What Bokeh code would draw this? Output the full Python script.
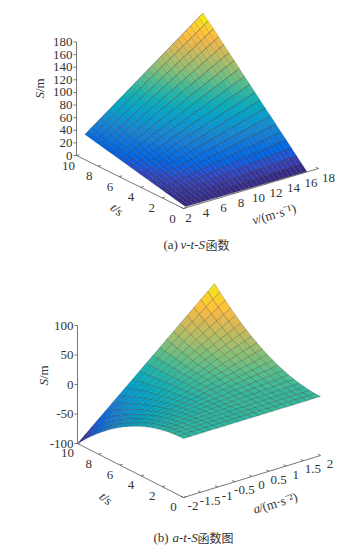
from bokeh.plotting import figure
from bokeh.models import Range1d, ColumnDataSource
from bokeh.core.properties import value
from bokeh.embed import file_html
from bokeh.resources import INLINE

# ---- data -----------------------------------------------------------------
V_A = [3,3.5,4,4.5,5,5.5,6,6.5,7,7.5,8,8.5,9,9.5,10,10.5,11,11.5,12,12.5,13,13.5,14,14.5,15,15.5,16,16.5,17]
T_GRID = [0,.5,1,1.5,2,2.5,3,3.5,4,4.5,5,5.5,6,6.5,7,7.5,8,8.5,9,9.5,10]
S_A = [
[0]*29,
[1.5,1.75,2,2.25,2.5,2.75,3,3.25,3.5,3.75,4,4.25,4.5,4.75,5,5.25,5.5,5.75,6,6.25,6.5,6.75,7,7.25,7.5,7.75,8,8.25,8.5],
[3,3.5,4,4.5,5,5.5,6,6.5,7,7.5,8,8.5,9,9.5,10,10.5,11,11.5,12,12.5,13,13.5,14,14.5,15,15.5,16,16.5,17],
[4.5,5.25,6,6.75,7.5,8.25,9,9.75,10.5,11.25,12,12.75,13.5,14.25,15,15.75,16.5,17.25,18,18.75,19.5,20.25,21,21.75,22.5,23.25,24,24.75,25.5],
[6,7,8,9,10,11,12,13,14,15,16,17,18,19,20,21,22,23,24,25,26,27,28,29,30,31,32,33,34],
[7.5,8.75,10,11.25,12.5,13.75,15,16.25,17.5,18.75,20,21.25,22.5,23.75,25,26.25,27.5,28.75,30,31.25,32.5,33.75,35,36.25,37.5,38.75,40,41.25,42.5],
[9,10.5,12,13.5,15,16.5,18,19.5,21,22.5,24,25.5,27,28.5,30,31.5,33,34.5,36,37.5,39,40.5,42,43.5,45,46.5,48,49.5,51],
[10.5,12.25,14,15.75,17.5,19.25,21,22.75,24.5,26.25,28,29.75,31.5,33.25,35,36.75,38.5,40.25,42,43.75,45.5,47.25,49,50.75,52.5,54.25,56,57.75,59.5],
[12,14,16,18,20,22,24,26,28,30,32,34,36,38,40,42,44,46,48,50,52,54,56,58,60,62,64,66,68],
[13.5,15.75,18,20.25,22.5,24.75,27,29.25,31.5,33.75,36,38.25,40.5,42.75,45,47.25,49.5,51.75,54,56.25,58.5,60.75,63,65.25,67.5,69.75,72,74.25,76.5],
[15,17.5,20,22.5,25,27.5,30,32.5,35,37.5,40,42.5,45,47.5,50,52.5,55,57.5,60,62.5,65,67.5,70,72.5,75,77.5,80,82.5,85],
[16.5,19.25,22,24.75,27.5,30.25,33,35.75,38.5,41.25,44,46.75,49.5,52.25,55,57.75,60.5,63.25,66,68.75,71.5,74.25,77,79.75,82.5,85.25,88,90.75,93.5],
[18,21,24,27,30,33,36,39,42,45,48,51,54,57,60,63,66,69,72,75,78,81,84,87,90,93,96,99,102],
[19.5,22.75,26,29.25,32.5,35.75,39,42.25,45.5,48.75,52,55.25,58.5,61.75,65,68.25,71.5,74.75,78,81.25,84.5,87.75,91,94.25,97.5,100.75,104,107.25,110.5],
[21,24.5,28,31.5,35,38.5,42,45.5,49,52.5,56,59.5,63,66.5,70,73.5,77,80.5,84,87.5,91,94.5,98,101.5,105,108.5,112,115.5,119],
[22.5,26.25,30,33.75,37.5,41.25,45,48.75,52.5,56.25,60,63.75,67.5,71.25,75,78.75,82.5,86.25,90,93.75,97.5,101.25,105,108.75,112.5,116.25,120,123.75,127.5],
[24,28,32,36,40,44,48,52,56,60,64,68,72,76,80,84,88,92,96,100,104,108,112,116,120,124,128,132,136],
[25.5,29.75,34,38.25,42.5,46.75,51,55.25,59.5,63.75,68,72.25,76.5,80.75,85,89.25,93.5,97.75,102,106.25,110.5,114.75,119,123.25,127.5,131.75,136,140.25,144.5],
[27,31.5,36,40.5,45,49.5,54,58.5,63,67.5,72,76.5,81,85.5,90,94.5,99,103.5,108,112.5,117,121.5,126,130.5,135,139.5,144,148.5,153],
[28.5,33.25,38,42.75,47.5,52.25,57,61.75,66.5,71.25,76,80.75,85.5,90.25,95,99.75,104.5,109.25,114,118.75,123.5,128.25,133,137.75,142.5,147.25,152,156.75,161.5],
[30,35,40,45,50,55,60,65,70,75,80,85,90,95,100,105,110,115,120,125,130,135,140,145,150,155,160,165,170],
]
A_B = [-2,-1.8,-1.6,-1.4,-1.2,-1,-.8,-.6,-.4,-.2,0,.2,.4,.6,.8,1,1.2,1.4,1.6,1.8,2]
S_B = [
[0]*21,
[-.25,-.23,-.2,-.18,-.15,-.13,-.1,-.08,-.05,-.03,0,.03,.05,.08,.1,.13,.15,.18,.2,.23,.25],
[-1,-.9,-.8,-.7,-.6,-.5,-.4,-.3,-.2,-.1,0,.1,.2,.3,.4,.5,.6,.7,.8,.9,1],
[-2.25,-2.03,-1.8,-1.58,-1.35,-1.13,-.9,-.68,-.45,-.23,0,.23,.45,.68,.9,1.13,1.35,1.58,1.8,2.03,2.25],
[-4,-3.6,-3.2,-2.8,-2.4,-2,-1.6,-1.2,-.8,-.4,0,.4,.8,1.2,1.6,2,2.4,2.8,3.2,3.6,4],
[-6.25,-5.63,-5,-4.38,-3.75,-3.13,-2.5,-1.88,-1.25,-.63,0,.63,1.25,1.88,2.5,3.13,3.75,4.38,5,5.63,6.25],
[-9,-8.1,-7.2,-6.3,-5.4,-4.5,-3.6,-2.7,-1.8,-.9,0,.9,1.8,2.7,3.6,4.5,5.4,6.3,7.2,8.1,9],
[-12.25,-11.03,-9.8,-8.58,-7.35,-6.13,-4.9,-3.68,-2.45,-1.23,0,1.23,2.45,3.68,4.9,6.13,7.35,8.58,9.8,11.03,12.25],
[-16,-14.4,-12.8,-11.2,-9.6,-8,-6.4,-4.8,-3.2,-1.6,0,1.6,3.2,4.8,6.4,8,9.6,11.2,12.8,14.4,16],
[-20.25,-18.23,-16.2,-14.18,-12.15,-10.13,-8.1,-6.08,-4.05,-2.03,0,2.03,4.05,6.08,8.1,10.13,12.15,14.18,16.2,18.23,20.25],
[-25,-22.5,-20,-17.5,-15,-12.5,-10,-7.5,-5,-2.5,0,2.5,5,7.5,10,12.5,15,17.5,20,22.5,25],
[-30.25,-27.23,-24.2,-21.18,-18.15,-15.13,-12.1,-9.08,-6.05,-3.03,0,3.03,6.05,9.08,12.1,15.13,18.15,21.18,24.2,27.23,30.25],
[-36,-32.4,-28.8,-25.2,-21.6,-18,-14.4,-10.8,-7.2,-3.6,0,3.6,7.2,10.8,14.4,18,21.6,25.2,28.8,32.4,36],
[-42.25,-38.03,-33.8,-29.58,-25.35,-21.13,-16.9,-12.68,-8.45,-4.23,0,4.23,8.45,12.68,16.9,21.13,25.35,29.58,33.8,38.03,42.25],
[-49,-44.1,-39.2,-34.3,-29.4,-24.5,-19.6,-14.7,-9.8,-4.9,0,4.9,9.8,14.7,19.6,24.5,29.4,34.3,39.2,44.1,49],
[-56.25,-50.63,-45,-39.38,-33.75,-28.13,-22.5,-16.88,-11.25,-5.63,0,5.63,11.25,16.88,22.5,28.13,33.75,39.38,45,50.63,56.25],
[-64,-57.6,-51.2,-44.8,-38.4,-32,-25.6,-19.2,-12.8,-6.4,0,6.4,12.8,19.2,25.6,32,38.4,44.8,51.2,57.6,64],
[-72.25,-65.03,-57.8,-50.58,-43.35,-36.13,-28.9,-21.68,-14.45,-7.23,0,7.23,14.45,21.68,28.9,36.13,43.35,50.58,57.8,65.03,72.25],
[-81,-72.9,-64.8,-56.7,-48.6,-40.5,-32.4,-24.3,-16.2,-8.1,0,8.1,16.2,24.3,32.4,40.5,48.6,56.7,64.8,72.9,81],
[-90.25,-81.23,-72.2,-63.18,-54.15,-45.13,-36.1,-27.08,-18.05,-9.03,0,9.03,18.05,27.08,36.1,45.13,54.15,63.18,72.2,81.23,90.25],
[-100,-90,-80,-70,-60,-50,-40,-30,-20,-10,0,10,20,30,40,50,60,70,80,90,100],
]
TICKS_S_A = [0,20,40,60,80,100,120,140,160,180]
TICKS_T = [0,2,4,6,8,10]
TICKS_V = [2,4,6,8,10,12,14,16,18]
TICKS_S_B = [-100,-50,0,50,100]
TICKS_A = [-2,-1.5,-1,-.5,0,.5,1,1.5,2]
TICK_LABELS_A = ["-2","-1.5","-1","-0.5","0","0.5","1","1.5","2"]

PARULA = [(.2081,.1663,.5292),(.2116,.1898,.5777),(.2123,.2138,.6270),(.2081,.2386,.6771),(.1959,.2645,.7279),(.1707,.2919,.7792),(.1253,.3242,.8303),(.0591,.3598,.8683),(.0117,.3875,.8820),(.0060,.4086,.8828),(.0165,.4266,.8786),(.0329,.4430,.8720),(.0498,.4586,.8641),(.0629,.4737,.8554),(.0723,.4887,.8467),(.0779,.5040,.8384),(.0793,.5200,.8312),(.0749,.5375,.8263),(.0641,.5570,.8240),(.0488,.5772,.8228),(.0343,.5966,.8199),(.0265,.6137,.8135),(.0239,.6287,.8038),(.0231,.6418,.7913),(.0228,.6535,.7768),(.0267,.6642,.7607),(.0384,.6743,.7436),(.0590,.6838,.7254),(.0843,.6928,.7062),(.1133,.7015,.6859),(.1453,.7098,.6646),(.1801,.7177,.6424),(.2178,.7250,.6193),(.2586,.7317,.5954),(.3022,.7376,.5712),(.3482,.7424,.5473),(.3953,.7459,.5244),(.4420,.7481,.5033),(.4871,.7491,.4840),(.5300,.7491,.4661),(.5709,.7485,.4494),(.6099,.7473,.4337),(.6473,.7456,.4188),(.6834,.7435,.4044),(.7184,.7411,.3905),(.7525,.7384,.3768),(.7858,.7356,.3633),(.8185,.7327,.3498),(.8507,.7299,.3360),(.8824,.7274,.3217),(.9139,.7258,.3063),(.9450,.7261,.2886),(.9739,.7314,.2666),(.9938,.7455,.2403),(.9990,.7653,.2164),(.9955,.7861,.1967),(.9880,.8066,.1794),(.9789,.8271,.1633),(.9697,.8481,.1475),(.9626,.8705,.1309),(.9589,.8949,.1132),(.9598,.9218,.0948),(.9661,.9514,.0755),(.9763,.9831,.0538)]

def color(f):
    i = max(0, min(63, int(f * 64)))
    r, g, b = PARULA[i]
    return "#%02x%02x%02x" % (int(r*255), int(g*255), int(b*255))

# ---- oblique projections (page pixels) --------------------------------------
def base_a(v, t, s):
    u, w = (v-2)/16, t/10
    return 183+135*u-107*w, 208-40*u-53*w-s*113.5/180

def surf_a(v, t, s):
    x, y = base_a(v, t, s*0.98)
    k = 1-t/10
    return x-(6.5-3.3*(v-3)/14)*k, y+.6*k

def proj_b(a, t, s):
    u, w = (a+2)/4, t/10
    return 183+137*u-106*w, 497-42*u-54*w-(s+100)*118/200

p = figure(width=355, height=545, x_range=Range1d(0, 355), y_range=Range1d(545, 0),
           output_backend="svg", toolbar_location=None, min_border=0)
p.axis.visible = False
p.grid.visible = False
p.outline_line_color = None
p.background_fill_color = "white"

def surface(xs_vals, t_vals, table, proj, lo, hi, alpha):
    fx, fy, fc = [], [], []
    for j in range(len(t_vals)-2, -1, -1):
        for i in range(len(xs_vals)-2, -1, -1):
            q = [(i,j),(i+1,j),(i+1,j+1),(i,j+1)]
            pts = [proj(xs_vals[a], t_vals[b], table[b][a]) for a, b in q]
            m = min(table[b][a] for a, b in q)*.5 + sum(table[b][a] for a, b in q)/8
            fx.append([c[0] for c in pts]); fy.append([c[1] for c in pts])
            fc.append(color((m-lo)/(hi-lo)))
    src = ColumnDataSource(dict(x=fx, y=fy, c=fc))
    p.patches("x", "y", source=src, fill_color="c", line_color="#202020", line_alpha=alpha, line_width=.5)

surface(V_A, T_GRID, S_A, surf_a, 0, 170, .3)
# constant-t lines read darker than the constant-v ones in the upper chart
rows_x, rows_y = [], []
for j, t in enumerate(T_GRID):
    pts = [surf_a(V_A[i], t, S_A[j][i]) for i in range(len(V_A))]
    rows_x.append([c[0] for c in pts]); rows_y.append([c[1] for c in pts])
p.multi_line(rows_x, rows_y, line_color="#151530", line_alpha=.4, line_width=.6)
surface(A_B, T_GRID, S_B, proj_b, -100, 100, .45)

AX = "#555555"; TXT = "#333333"
lx, ly = [], []
def seg(a, b):
    lx.append([a[0], b[0]]); ly.append([a[1], b[1]])

# chart a axes
seg(base_a(2,10,0), base_a(2,0,0)); seg(base_a(2,0,0), base_a(18,0,0)); seg(base_a(2,10,0), base_a(2,10,180))
tickx, ticky, tickt = [], [], []
def lab(pos, s, dx, dy):
    tickx.append(pos[0]+dx); ticky.append(pos[1]+dy); tickt.append(s)
for s in TICKS_S_A:
    c = base_a(2,10,s); seg(c, (c[0]-3, c[1])); lab(c, str(s), -4, 0)
for t in TICKS_T:
    c = base_a(2,t,0); seg(c, (c[0]+2.9, c[1]-.9)); lab(c, str(t), -11+.3*t, 10)
for v in TICKS_V:
    c = base_a(v,0,0); seg(c, (c[0]-2.7, c[1]-1.3)); lab(c, str(v), 5+5*(v-2)/16, 9.5)
# chart b axes
seg(proj_b(-2,10,-100), proj_b(-2,0,-100)); seg(proj_b(-2,0,-100), proj_b(2,0,-100)); seg(proj_b(-2,10,-100), proj_b(-2,10,100))
for s in TICKS_S_B:
    c = proj_b(-2,10,s); seg(c, (c[0]-3, c[1])); lab(c, str(s), -4, 0)
for t in TICKS_T:
    c = proj_b(-2,t,-100); seg(c, (c[0]+2.9, c[1]-.9)); lab(c, str(t), -10, 9.5)
for a, s in zip(TICKS_A, TICK_LABELS_A):
    c = proj_b(a,0,-100); seg(c, (c[0]-2.7, c[1]-1.3)); lab(c, s, 9.5, 8.5)
p.multi_line(lx, ly, line_color=AX, line_width=.8)

# S tick labels are right aligned, the others centred
n_sa, n_sb = len(TICKS_S_A), len(TICKS_S_B)
base = n_sa+len(TICKS_T)+len(TICKS_V)
right = list(range(n_sa))+list(range(base, base+n_sb))
center = [i for i in range(len(tickx)) if i not in right]
SERIF = "Liberation Serif"
F = value(SERIF)
p.text([tickx[i] for i in right], [ticky[i] for i in right], text=[tickt[i] for i in right], text_font=F,
       text_font_size="13px", text_color=TXT, text_align="right", text_baseline="middle")
p.text([tickx[i] for i in center], [ticky[i] for i in center], text=[tickt[i] for i in center], text_font=F,
       text_font_size="13px", text_color=TXT, text_align="center", text_baseline="middle")

def put(x, y, s, angle=0, style="normal", font=SERIF, size="13px"):
    p.text([x], [y], text=[s], angle=angle, angle_units="deg", text_font=value(font), text_font_style=style,
           text_font_size=size, text_color=TXT, text_align="left", text_baseline="middle")

CJK = "Noto Sans CJK SC"
# chart a labels
put(39, 98, "S", 90, "italic"); put(39, 91.5, "/m", 90)
put(112, 205, "t", -40, "italic"); put(114.6, 207.2, "/s", -40)
put(252, 220, "v", 16.7, "italic"); put(257.2, 218.5, "/(m·s⁻¹)", 16.7)
put(163, 244, "(a) "); put(180, 244, "v-t-S", 0, "italic"); put(205, 244, "函数", font=CJK, size="12px")
# chart b labels
put(43, 385, "S", 90, "italic"); put(43, 378.5, "/m", 90)
put(101, 494, "t", -40, "italic"); put(103.6, 496.2, "/s", -40)
put(253, 509, "a", 16.7, "italic"); put(258.6, 507.4, "/(m·s⁻²)", 16.7)
put(153, 537, "(b) "); put(172, 537, "a-t-S", 0, "italic"); put(197, 537, "函数图", font=CJK, size="12px")

open("out.html", "w").write(file_html(p, INLINE))
